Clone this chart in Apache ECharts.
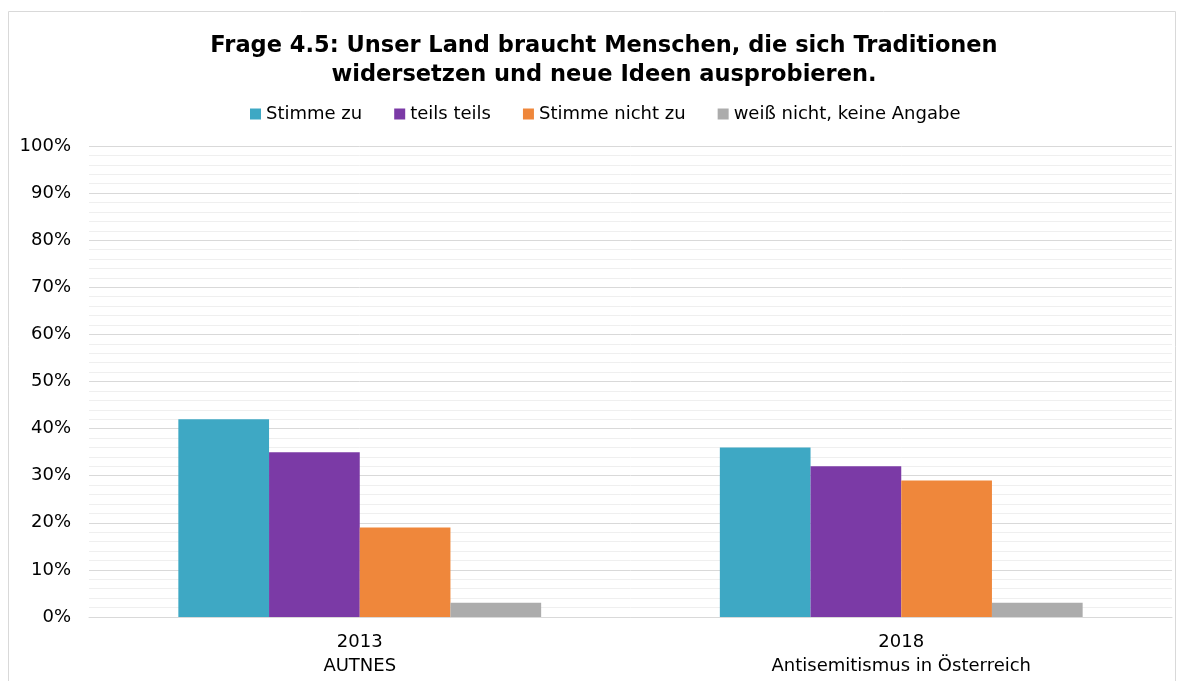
<!DOCTYPE html>
<html>
<head>
<meta charset="utf-8">
<script src="https://cdn.jsdelivr.net/npm/echarts@6/dist/echarts.min.js"></script>
<style>
  html, body { margin: 0; padding: 0; background: #fff; }
  #main { width: 1177px; height: 681px; }
</style>
</head>
<body>
<div id="main"></div>
<script>
let categories = ["2013\nAUTNES", "2018\nAntisemitismus in Österreich"];
let seriesNames = ["Stimme zu", "teils teils", "Stimme nicht zu", "weiß nicht, keine Angabe"];
let stimmeZu = [42, 36];
let teilsTeils = [35, 32];
let stimmeNichtZu = [19, 29];
let weissNicht = [3, 3];
let colors = ["#3ea8c4", "#7b3aa6", "#ef873b", "#acacac"];

let chart = echarts.init(document.getElementById("main"));

let values = [stimmeZu, teilsTeils, stimmeNichtZu, weissNicht];
let series = values.map((v, i) => ({
  name: seriesNames[i],
  type: "bar",
  data: v,
  barGap: "0%",
  barCategoryGap: "33%",
  itemStyle: { color: colors[i] }
}));

chart.setOption({
  animation: false,
  textStyle: { fontFamily: "DejaVu Sans, sans-serif" },
  title: {
    text: "Frage 4.5: Unser Land braucht Menschen, die sich Traditionen\nwidersetzen und neue Ideen ausprobieren.",
    left: 599,
    textAlign: "center",
    top: 27,
    textStyle: { fontSize: 22.5, fontWeight: "bold", color: "#000", lineHeight: 29, fontFamily: "DejaVu Sans" }
  },
  legend: {
    top: 100,
    left: 245,
    itemWidth: 11,
    itemHeight: 11,
    itemGap: 32,
    icon: "rect",
    textStyle: { fontSize: 18, color: "#000" },
    data: seriesNames
  },
  grid: { left: 89, right: 5, top: 146, bottom: 64 },
  xAxis: {
    type: "category",
    data: categories,
    axisLine: { lineStyle: { color: "#d9d9d9", width: 1 } },
    axisTick: { show: false },
    axisLabel: { fontSize: 18, color: "#000", lineHeight: 24, margin: 13 }
  },
  yAxis: {
    type: "value",
    min: 0,
    max: 100,
    interval: 10,
    axisLine: { show: false },
    axisTick: { show: false },
    axisLabel: { fontSize: 18, color: "#000", formatter: "{value}%", margin: 18 },
    splitLine: { lineStyle: { color: "#d9d9d9", width: 1 } },
    minorTick: { show: false, splitNumber: 5 },
    minorSplitLine: { show: true, lineStyle: { color: "#efefef", width: 1 } }
  },
  graphic: [{
    type: "rect",
    shape: { x: 8.5, y: 11.5, width: 1167, height: 690 },
    style: { fill: null, stroke: "#d9d9d9", lineWidth: 1 },
    silent: true,
    z: -1
  }],
  series: series
});
</script>
</body>
</html>
